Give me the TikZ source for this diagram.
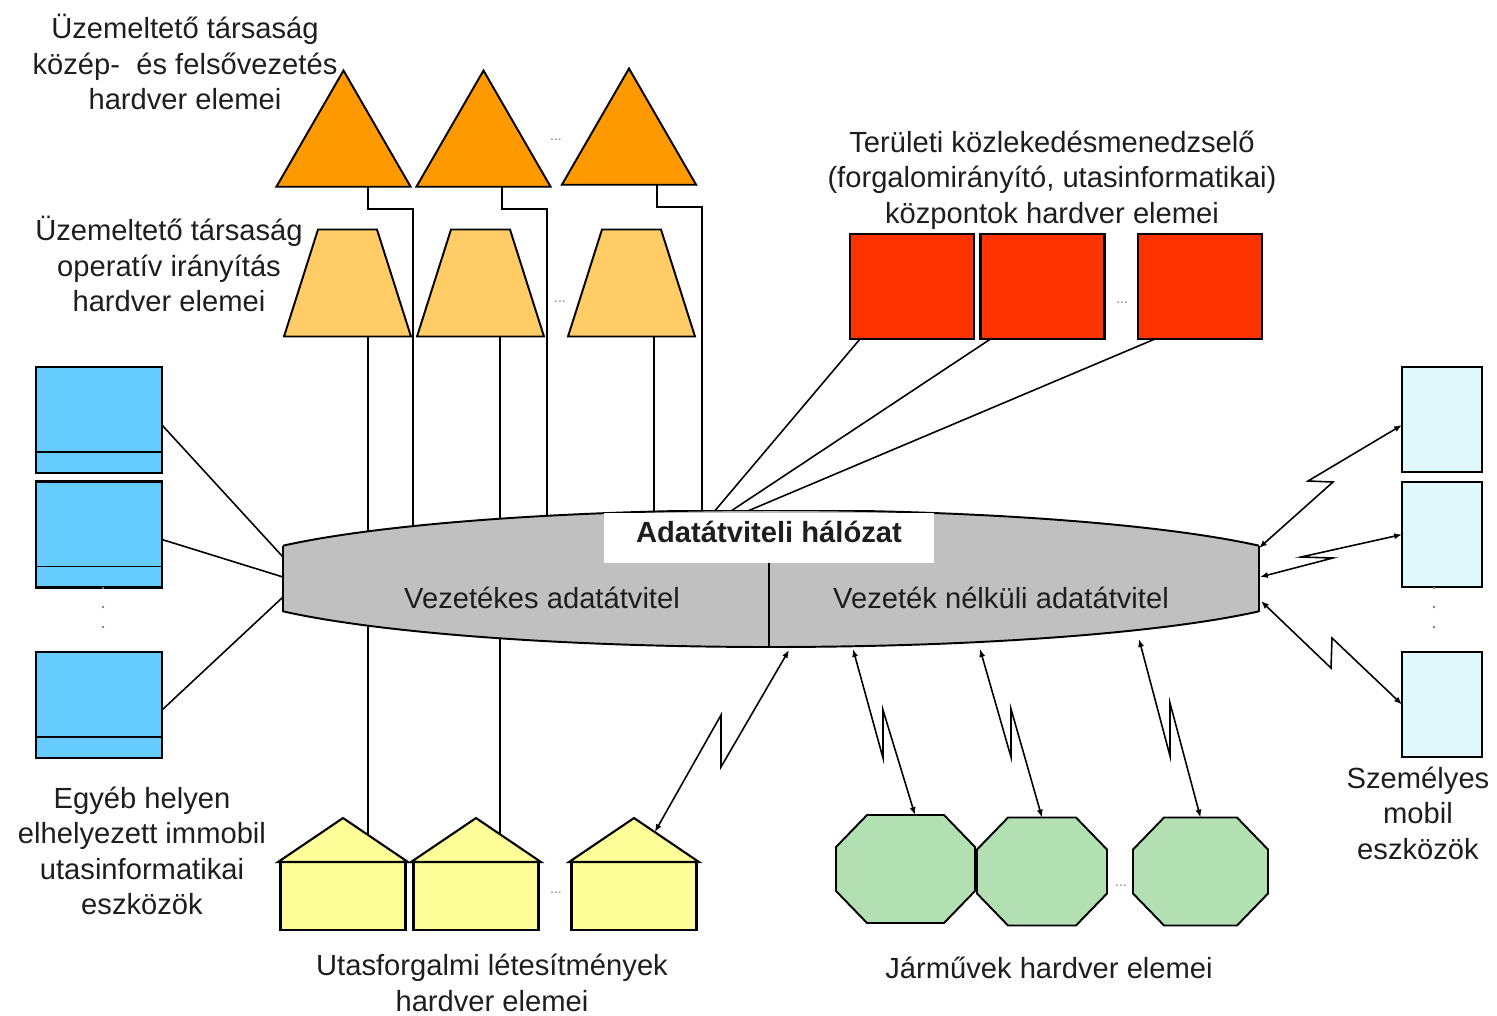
\documentclass[tikz,border=0pt]{standalone}
\usepackage{fontspec}
\setmainfont{Liberation Sans}
\usetikzlibrary{shapes.geometric,arrows.meta,backgrounds,calc}

\definecolor{mgmtorange}{HTML}{FF9900}
\definecolor{operorange}{HTML}{FFCC66}
\definecolor{areared}{HTML}{FF3300}
\definecolor{fixblue}{HTML}{66CCFF}
\definecolor{mobcyan}{HTML}{E0F8FA}
\definecolor{stationyellow}{HTML}{FFFF99}
\definecolor{vehgreen}{HTML}{B3E0B3}
\definecolor{netgray}{HTML}{C0C0C0}
\definecolor{txt}{HTML}{1E1E1E}

\newcommand\lblfont{\fontsize{16.6}{20.2}\selectfont}

\tikzset{
  every node/.append style={inner sep=0pt, outer sep=0pt, text=txt},
  lbl/.style={align=center, font=\lblfont},
  more/.style={font=\fontsize{8}{9}\selectfont, text=gray},
  box/.style={draw, line width=1.6pt},
  slim/.style={draw, line width=1.1pt, line join=miter},
  mgmt/.style={slim, regular polygon, regular polygon sides=3, fill=mgmtorange, minimum size=3.1cm},
  oper/.style={minimum width=2.54cm, minimum height=2.14cm},
  area/.style={box, fill=areared, minimum width=2.48cm, minimum height=2.1cm},
  fixed/.style={box, fill=fixblue, minimum width=2.52cm, minimum height=2.12cm},
  mobile/.style={box, fill=mobcyan, minimum width=1.6cm, minimum height=2.1cm},
  station/.style={box, fill=stationyellow, minimum width=2.5cm, minimum height=1.36cm},
  roof/.style={draw, line width=1.2pt, fill=stationyellow, line join=miter},
  vehicle/.style={minimum height=2.16cm},
  hub/.style={draw, line width=1.1pt, fill=netgray},
  link/.style={line width=.9pt},
  radio/.style={line width=.9pt, {Latex[length=4.5pt,width=3.5pt]}-{Latex[length=4.5pt,width=3.5pt]}},
}

\begin{document}
\begin{tikzpicture}[x=0.02cm, y=-0.02cm]
\useasboundingbox (0,0) rectangle (1497,1015);

% management hardware
\foreach \i/\x/\y in {1/343.5/148, 2/483.5/148, 3/629/146}
  {\node[mgmt] (t\i) at (\x,\y) {};}

% operative hardware, trapezoids on a box
\foreach \i/\x in {1/347.5, 2/480.5, 3/631.5}
  {\node[oper] (p\i) at (\x,283) {};
   \draw[slim, fill=operorange] (p\i.south west) -- (p\i.south east)
     -- ([xshift=-.68cm]p\i.north east) -- ([xshift=.68cm]p\i.north west) -- cycle;}

% area traffic management centres
\foreach \i/\x in {1/912, 2/1042.5, 3/1200}
  {\node[area] (r\i) at (\x,286.5) {};}

% fixed passenger information devices
\foreach \i/\y in {1/420, 2/534.5, 3/705}
  {\node[fixed] (b\i) at (99,\y) {};
   \draw[line width=1.1pt] ([yshift=.42cm]b\i.south west) -- ([yshift=.42cm]b\i.south east);}

% personal mobile devices
\foreach \i/\y in {1/419.5, 2/534.5, 3/704.5}
  {\node[mobile] (m\i) at (1442,\y) {};}

% stations (body + roof)
\foreach \i/\x in {1/343, 2/476, 3/634}
  {\node[station] (h\i) at (\x,896) {};
   \coordinate (h\i-top) at ([yshift=.88cm]h\i.north);
   \draw[roof] ([xshift=-.05cm]h\i.north west) -- (h\i-top) -- ([xshift=.05cm]h\i.north east) -- cycle;}

% vehicles, octagons on a box
\def\cx{.62cm}
\def\cy{.64cm}
\foreach \i/\x/\y/\w in {1/905.5/869/2.78, 2/1042/871.5/2.6, 3/1200.5/871.5/2.7}
  {\node[vehicle, minimum width=\w cm] (v\i) at (\x,\y) {};
   \draw[slim, fill=vehgreen] ([xshift=\cx]v\i.north west) -- ([xshift=-\cx]v\i.north east)
     -- ([yshift=-\cy]v\i.north east) -- ([yshift=\cy]v\i.south east)
     -- ([xshift=-\cx]v\i.south east) -- ([xshift=\cx]v\i.south west)
     -- ([yshift=\cy]v\i.south west) -- ([yshift=-\cy]v\i.north west) -- cycle;}

% the data network
\node[minimum width=19.52cm, minimum height=2.74cm] (net) at (771,578.5) {};
\begin{scope}
  \clip (net.north west) rectangle (net.south east);
  \draw[hub] (net.center) ellipse [x radius=11.12cm, y radius=1.37cm];
\end{scope}
\draw[hub] ([yshift=.66cm]net.west) -- ([yshift=-.66cm]net.west)
           ([yshift=.66cm]net.east) -- ([yshift=-.66cm]net.east);
\node[fill=white, minimum width=6.6cm, minimum height=1cm, text depth=.25cm,
      font=\lblfont\bfseries] (title) at (769,538) {Adatátviteli hálózat};
\draw[line width=1.1pt] (title.south) -- (title.south |- net.south);
\node[lbl] (wired) at (542,598) {Vezetékes adatátvitel};
\node[lbl] (wireless) at (1001,598) {Vezeték nélküli adatátvitel};

% attachment points on the network border
\foreach \i/\y in {1/557, 2/577, 3/597} {\coordinate (nw\i) at (283,\y);}
\foreach \i/\x in {1/713, 2/728, 3/743} {\coordinate (nr\i) at (\x,513);}
\coordinate (ne1) at (1259,548);
\coordinate (ne2) at (1260,577);
\coordinate (ne3) at (1261,601);
\coordinate (nb0) at (789,650);
\coordinate (nb1) at (853,649);
\coordinate (nb2) at (980,649);
\coordinate (nb3) at (1139,639);
\coordinate (h3-in) at ($(h3-top)!.32!([xshift=.05cm]h3.north east)$);

% wired links, partly hidden behind the network
\begin{scope}[on background layer]
\foreach \i/\d in {1/.49, 2/.37, 3/.56}
  {\draw[link] ([xshift=\d cm]t\i.south) |- ++(45,22) coordinate (k\i) -- (k\i |- net.center);}
\foreach \i/\d in {1/.41, 2/.39, 3/.45}
  {\coordinate (p\i-out) at ([xshift=\d cm]p\i.south);}
\draw[link] (p1-out) -- (p1-out |- h1.north);
\draw[link] (p2-out) -- (p2-out |- h2.north);
\draw[link] (p3-out) -- (p3-out |- net.center);
\foreach \i/\d in {1/.2, 2/.2, 3/.34}
  {\draw[link] ([xshift=\d cm]r\i.south west) -- (nr\i);}
\foreach \i in {1,2,3}
  {\draw[link] ([yshift=-.1cm]b\i.east) -- (nw\i);}
\end{scope}

% wireless links
\draw[radio] (ne1) -- (1333,482) -- (1308,481) -- ([yshift=-.11cm]m1.west);
\draw[radio] (ne2) -- (1333,558) -- (1301,557) -- (m2.west);
\draw[radio] (ne3) -- (1331,668) -- (1332,638) -- (m3.west);
\draw[radio] (nb0) -- (721,767) -- (721,715) -- (h3-in);
\draw[radio] (nb1) -- (883,758) -- (883,710) -- ([xshift=.19cm]v1.north);
\draw[radio] (nb2) -- (1011,757) -- (1011,709) -- (v2.north);
\draw[radio] (nb3) -- (1170,756) -- (1170,703) -- (v3.north);

% "more of the same" marks
\foreach \x/\y [count=\k] in {556/140, 560/302, 1122/303, 556/893, 1121/886}
  {\node[more] (gap\k) at (\x,\y) {...};}
\foreach \y in {588,607,627}
  {\fill[gray] (103,\y) circle (.8pt); \fill[gray] (1434,\y) circle (.8pt);}

% captions
\node[lbl] (cap-mgmt) at (185,62) {Üzemeltető társaság\\közép-~ és felsővezetés\\hardver elemei};
\node[lbl] (cap-oper) at (169,264) {Üzemeltető társaság\\operatív irányítás\\hardver elemei};
\node[lbl] (cap-area) at (1052,180) {Területi közlekedésmenedzselő\\(forgalomirányító, utasinformatikai)\\központok hardver elemei};
\node[lbl] (cap-fix) at (142,851) {Egyéb helyen\\elhelyezett immobil\\utasinformatikai\\eszközök};
\node[lbl] (cap-station) at (492,983) {Utasforgalmi létesítmények\\hardver elemei};
\node[lbl] (cap-veh) at (1049,968) {Járművek hardver elemei};
\node[lbl] (cap-mob) at (1418,813) {Személyes\\mobil\\eszközök};
\end{tikzpicture}
\end{document}
